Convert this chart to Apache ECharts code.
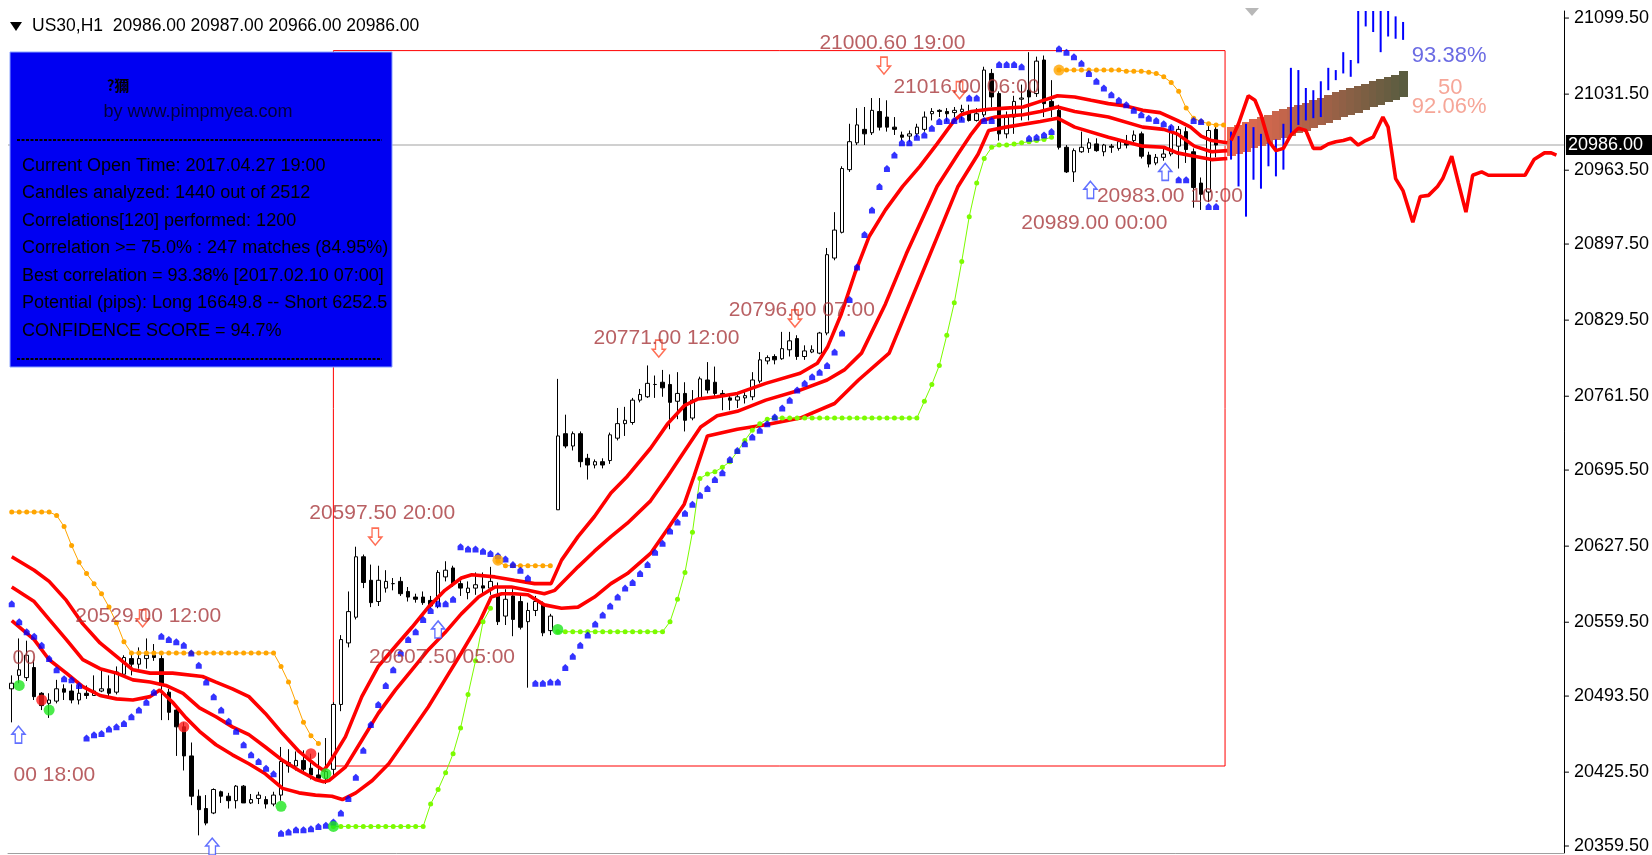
<!DOCTYPE html>
<html>
<head>
<meta charset="utf-8">
<title>US30,H1</title>
<script src="https://cdn.jsdelivr.net/npm/echarts@6.0.0/dist/echarts.min.js"></script>
<style>
  html, body { margin: 0; padding: 0; background: #fff; }
  #chart { width: 1652px; height: 855px; }
</style>
</head>
<body>
<div id="chart"></div>
<script>
// visible price window and slots (history + projection)
const priceMin = 20353.3;
const priceMax = 21105.8;
const barCount = 208;
const lastPrice = 20986.0;
const yTickLabels = [21099.5, 21031.5, 20963.5, 20897.5, 20829.5, 20761.5, 20695.5, 20627.5, 20559.5, 20493.5, 20425.5, 20359.5];

// H1 bars: [open, high, low, close]
const ohlc = [
  [20500,20512,20470,20505],[20512,20545,20505,20517],[20510,20543,20507,20530],[20519,20526,20490,20493],
  [20496,20497,20481,20485],[20487,20496,20474,20490],[20489,20508,20487,20500],[20500,20504,20490,20497],
  [20498,20504,20487,20490],[20490,20507,20486,20496],[20496,20503,20491,20494],[20494,20512,20494,20498],
  [20498,20518,20497,20500],[20500,20512,20493,20496],[20497,20520,20495,20515],[20513,20530,20511,20528],
  [20527,20531,20512,20522],[20522,20537,20518,20527],[20527,20545,20518,20530],[20530,20540,20525,20528],
  [20527,20530,20472,20503],[20497,20500,20472,20479],[20481,20483,20440,20466],[20466,20470,20427,20440],
  [20440,20452,20396,20404],[20404,20410,20369,20392],[20393,20405,20378,20380],[20389,20411,20388,20410],
  [20408,20409,20398,20404],[20404,20407,20393,20400],[20400,20414,20393,20413],[20413,20414,20398,20398],
  [20398,20406,20397,20401],[20402,20408,20397,20405],[20401,20404,20393,20397],[20397,20408,20395,20405],
  [20405,20448,20400,20435],[20434,20446,20425,20431],[20431,20444,20427,20436],[20436,20445,20424,20428],
  [20429,20442,20419,20423],[20423,20443,20418,20420],[20420,20456,20415,20426],[20428,20488,20420,20486],
  [20486,20548,20480,20544],[20541,20587,20537,20569],[20564,20627,20562,20618],[20618,20620,20590,20595],
  [20597,20611,20573,20577],[20578,20610,20574,20597],[20590,20606,20586,20596],[20594,20599,20588,20594],
  [20596,20600,20583,20585],[20587,20591,20578,20582],[20582,20585,20577,20580],[20582,20587,20575,20577],
  [20579,20583,20572,20574],[20574,20606,20572,20604],[20600,20614,20596,20606],[20608,20610,20591,20594],
  [20594,20597,20583,20590],[20586,20596,20580,20590],[20590,20604,20584,20593],[20592,20604,20584,20590],
  [20590,20609,20584,20596],[20584,20595,20557,20560],[20565,20589,20557,20580],[20583,20589,20547,20562],
  [20578,20583,20553,20555],[20560,20577,20501,20570],[20570,20583,20565,20578],[20575,20578,20547,20550],
  [20552,20567,20548,20565],[20660,20777,20660,20726],[20728,20745,20715,20717],[20717,20730,20713,20728],
  [20728,20730,20698,20703],[20706,20710,20687,20700],[20700,20705,20697,20703],[20703,20706,20697,20700],
  [20704,20729,20701,20727],[20724,20751,20722,20737],[20737,20752,20726,20740],[20738,20760,20736,20758],
  [20758,20768,20756,20763],[20761,20789,20760,20773],[20772,20780,20760,20772],[20774,20785,20761,20769],
  [20772,20781,20732,20756],[20757,20783,20741,20764],[20764,20774,20730,20740],[20742,20767,20740,20758],
  [20760,20779,20758,20777],[20776,20792,20764,20767],[20774,20788,20761,20764],[20764,20767,20749,20762],
  [20760,20763,20749,20758],[20758,20763,20751,20761],[20760,20767,20755,20762],[20761,20783,20758,20776],
  [20775,20801,20773,20794],[20793,20798,20790,20796],[20797,20799,20790,20794],[20795,20819,20794,20804],
  [20803,20819,20797,20811],[20813,20816,20794,20797],[20797,20807,20794,20802],[20801,20807,20800,20803],
  [20800,20819,20799,20818],[20818,20894,20816,20888],[20885,20926,20883,20910],[20908,20967,20907,20965],
  [20964,21005,20962,20989],[20988,21019,20986,21004],[21000,21020,20986,20996],[20997,21028,20995,21017],
  [21016,21028,20999,21002],[21011,21026,20998,21002],[21002,21011,20995,21000],[20995,20998,20990,20993],
  [20994,20999,20989,20996],[20996,21005,20993,21002],[21000,21016,20998,21011],[21014,21019,21008,21016],
  [21017,21018,21011,21016],[21016,21019,21007,21014],[21015,21020,21011,21017],[21016,21022,21008,21018],
  [21016,21022,21007,21008],[21008,21019,21007,21014],[21013,21056,21011,21053],[21050,21054,21020,21029],
  [21032,21034,20990,20996],[20996,21016,20992,21011],[21011,21030,20996,21025],[21027,21040,21008,21028],
  [21035,21069,21008,21029],[21032,21065,21029,21061],[21062,21066,21011,21023],[21025,21044,21011,21020],
  [21017,21022,20982,20984],[20984,20986,20961,20962],[20962,20983,20953,20981],[20980,20998,20979,20984],
  [20983,20992,20979,20988],[20987,20992,20980,20981],[20980,20987,20976,20986],[20985,20987,20979,20984],
  [20983,20990,20981,20989],[20988,20995,20983,20986],[20990,20999,20988,20995],[20996,20998,20974,20976],
  [20977,20980,20966,20969],[20970,20978,20968,20975],[20975,20984,20972,20978],[20978,21003,20976,20998],
  [20985,21003,20965,21000],[20998,21002,20970,20982],[20980,20983,20930,20948],[20952,20957,20928,20942],
  [20944,21003,20935,20999],[21000,21003,20975,20986]
];

// envelope lines [bar, price]
const upperBand = [[0,20618],[3,20606],[5,20596],[7.3,20579],[9.5,20558],[11.8,20541],[14,20529],[16.2,20517],[18.5,20514],[21.5,20514],[25.5,20511],[27.3,20506],[29.5,20500],[31.7,20493],[33.9,20478],[36.2,20460],[38.4,20444],[40.6,20432],[41.7,20427],[42.4,20433],[44.6,20457],[46.8,20493],[49,20520],[51.3,20538],[53.5,20555],[55.7,20573],[57.9,20588],[60.1,20599],[61.5,20602],[64.6,20600],[67.2,20597],[69.9,20594],[72.1,20594],[73.5,20615],[75.7,20636],[77.9,20654],[80.1,20675],[82.3,20690],[85.4,20715],[87.7,20737],[89.9,20753],[91.7,20759],[94.3,20761],[97,20764],[100.8,20773],[105.4,20782],[107.7,20791],[109.1,20806],[110.9,20835],[112.7,20871],[114.6,20904],[116.8,20928],[119.1,20949],[121.4,20967],[123.7,20987],[126,21008],[126.9,21013],[128.3,21016],[130.6,21018],[132.9,21019],[135.2,21020],[137.5,21025],[139.8,21030],[142.1,21029],[144.3,21026],[146.6,21023],[148.9,21021],[151.2,21017],[153.5,21015],[155.8,21008],[157.6,21002],[159,20994],[160.4,20990],[162.5,20988]];
const middleBand = [[0,20591],[3,20578],[5,20562],[7.3,20544],[9.5,20526],[11.8,20518],[14,20514],[16.2,20508],[18.5,20506],[20.6,20503],[22.9,20496],[25.1,20483],[27.3,20475],[29.5,20466],[31.7,20459],[33.9,20448],[36.2,20436],[38.4,20427],[40.6,20419],[41.7,20417],[42.4,20418],[44.6,20430],[46.8,20454],[49,20478],[51.3,20499],[53.5,20517],[55.7,20535],[57.9,20550],[60.1,20567],[62.4,20582],[64.6,20591],[66.8,20591],[69,20588],[71.2,20585],[72.6,20588],[75.7,20609],[77.9,20623],[80.1,20636],[82.3,20648],[85.4,20668],[87.7,20690],[89.9,20712],[92.1,20734],[94.3,20744],[97,20748],[100.8,20758],[105.4,20767],[109,20776],[111.3,20785],[113.6,20800],[116.8,20844],[119.6,20889],[123.7,20949],[126.5,20978],[128.3,20996],[129.7,21008],[131.5,21011],[135.2,21013],[137.5,21016],[139.8,21020],[142.1,21016],[146.6,21011],[151.2,21002],[154,21000],[155.8,20996],[158.1,20985],[160.4,20980],[162.5,20981]];
const lowerBand = [[0,20561],[3,20544],[5,20526],[7.3,20514],[9.5,20502],[11.8,20494],[14,20491],[16.2,20490],[18.5,20493],[19.8,20499],[21.5,20488],[23.3,20474],[25.1,20462],[27.3,20450],[29.5,20441],[31.7,20433],[33.9,20424],[36.2,20411],[38.4,20407],[40.6,20405],[42.8,20404],[44.2,20401],[46,20407],[48.2,20418],[50.4,20433],[52.6,20454],[55.7,20484],[57.9,20508],[60.1,20532],[62.4,20558],[64.1,20582],[65.5,20585],[67.2,20585],[69,20584],[71.2,20575],[73.5,20572],[75.7,20573],[77.9,20582],[80.1,20594],[82.3,20603],[85.4,20621],[87.7,20643],[89.9,20665],[91.2,20690],[93,20726],[97,20732],[100.8,20736],[105.4,20742],[110,20755],[113.2,20776],[117.3,20800],[122.8,20889],[126.5,20949],[129.2,20978],[130.6,20999],[132.9,21002],[137.5,21007],[139.8,21010],[142.1,21002],[146.6,20993],[151.2,20985],[154,20984],[155.8,20979],[158.1,20976],[160.4,20973],[162.5,20974]];

// stop-and-reverse dots [bar, price]
const sarDots = [[0,20576],[1,20560],[2,20551],[3,20547],[4,20539],[5,20527],[6,20517],[7,20509],[8,20508],[9,20503],
  [10,20456],[11,20459],[12,20460],[13,20464],[14,20466],[15,20469],[16,20475],[17,20481],[18,20488],[19,20497],
  [20,20547],[21,20544],[22,20542],[23,20539],[24,20532],[25,20521],[26,20506],[27,20493],[28,20481],[29,20471],[30,20462],[31,20450],[32,20441],[33,20435],[34,20429],[35,20424],
  [36,20371],[37,20372],[38,20374],[39,20374],[40,20375],[41,20377],[42,20378],[43,20381],[44,20389],[45,20402],[46,20421],[47,20445],[48,20468],[49,20486],[50,20503],[51,20517],[52,20532],[53,20544],[54,20551],[55,20562],[56,20570],[57,20576],[58,20576],[59,20580],
  [60,20627],[61,20625],[62,20625],[63,20623],[64,20621],[65,20619],[66,20616],[67,20611],[68,20606],[69,20599],
  [70,20505],[71,20505],[72,20506],[73,20506],[74,20519],[75,20529],[76,20539],[77,20548],[78,20558],[79,20566],[80,20574],[81,20582],[82,20590],[83,20595],[84,20603],[85,20611],[86,20622],[87,20630],[88,20641],[89,20649],[90,20657],[91,20665],[92,20673],[93,20679],[94,20687],[95,20693],
  [96,20705],[97,20713],[98,20719],[99,20725],[100,20731],[101,20737],[102,20743],[103,20751],[104,20758],[105,20767],[106,20773],[107,20779],[108,20783],[109,20789],[110,20801],[111,20818],[112,20848],[113,20877],[114,20906],[115,20928],[116,20949],[117,20965],[118,20977],[119,20988],[120,20988],[121,20993],[122,20995],[123,21001],[124,21007],[125,21008],[126,21008],[127,21009],
  [128,21028],[129,21028],[130,21008],[131,21008],[132,21058],[133,21058],[134,21058],[135,21056],[136,20992],[137,20993],[138,20995],[139,20998],
  [140,21072],[141,21069],[142,21065],[143,21059],[144,21050],[145,21043],[146,21037],[147,21031],[148,21026],[149,21022],[150,21017],[151,21013],[152,21010],[153,21008],[154,21005],[155,21002],
  [156,20955],[157,20955],[158,21008],[159,21007],[160,20931],[161,20931]];

// chained dot lines [bar, price]
const orangeSegments = [
  [[0,20658],[1,20658],[2,20658],[3,20658],[4,20658],[5,20658],[6,20655],[7,20645],[8,20628],[9,20613],[10,20603],[11,20594],[12,20585],[13,20573],[14,20559],[15,20542],[16,20532],[17,20532],[18,20532],[19,20532],[20,20532],[21,20532],[22,20532],[23,20532],[24,20532],[25,20532],[26,20532],[27,20532],[28,20532],[29,20532],[30,20532],[31,20532],[32,20532],[33,20532],[34,20532],[35,20532],[36,20520],[37,20506],[38,20488],[39,20470],[40,20458],[41,20451]],
  [[65,20614],[66,20610],[67,20610],[68,20610],[69,20610],[70,20610],[71,20610],[72,20610]],
  [[140,21053],[141,21053],[142,21053],[143,21053],[144,21053],[145,21053],[146,21053],[147,21053],[148,21053],[149,21052],[150,21052],[151,21052],[152,21051],[153,21050],[154,21047],[155,21042],[156,21034],[157,21019],[158,21010],[159,21007],[160,21005],[161,21004],[162,21004]]
];
const greenSegments = [
  [[43,20377],[44,20377],[45,20377],[46,20377],[47,20377],[48,20377],[49,20377],[50,20377],[51,20377],[52,20377],[53,20377],[54,20377],[55,20377],[56,20397],[57,20410],[58,20425],[59,20442],[60,20465],[61,20495],[62,20525],[63,20560],[64,20572]],
  [[73,20551],[74,20551],[75,20551],[76,20551],[77,20551],[78,20551],[79,20551],[80,20551],[81,20551],[82,20551],[83,20551],[84,20551],[85,20551],[86,20551],[87,20551],[88,20560],[89,20580],[90,20604],[91,20640],[92,20688],[93,20692],[94,20694],[95,20698],[96,20703],[97,20712],[98,20722],[99,20731],[100,20737],[101,20741],
   [102,20742],[103,20742],[104,20742],[105,20742],[106,20742],[107,20742],[108,20742],[109,20742],[110,20742],[111,20742],[112,20742],[113,20742],[114,20742],[115,20742],[116,20742],[117,20742],[118,20742],[119,20742],[120,20742],[121,20742],
   [122,20757],[123,20772],[124,20789],[125,20816],[126,20845],[127,20882],[128,20922],[129,20952],[130,20974],[131,20984],[132,20986],[133,20986],[134,20987],[135,20988],[136,20989],[137,20990],[138,20991],[139,20993]]
];

// signal circles [bar, price]
const redSignals = [[4,20490],[23,20466],[40,20442]];
const greenSignals = [[1,20503],[5,20481],[36,20395],[42,20424],[43,20377],[73,20553]];
const orangeSignals = [[65,20615],[140,21053]];

// arrows [bar, price]
const downArrows = [[17.5,20563],[48.6,20636],[86.5,20804],[104.7,20831],[116.6,21057],[126.7,21035]];
const upArrows = [[0.9,20459],[26.8,20359],[57.0,20553],[144.2,20946],[154.2,20962]];

// swing labels: text, bar, price
const swingLabels = [
  ['20529.00 12:00', 8.42, 20565], ['20597.50 20:00', 39.7, 20657], ['20607.50 05:00', 47.7, 20528],
  ['20771.00 12:00', 77.7, 20813], ['20796.00 07:00', 95.8, 20838], ['21000.60 19:00', 107.9, 21077],
  ['21016.00 06:00', 117.8, 21038], ['20989.00 00:00', 134.9, 20916], ['20983.00 10:00', 145.0, 20940],
  ['00 18:00', 0.17, 20423], ['00', 0.03, 20527]
];

// matched pattern window: left bar, right bar, low, high
const patternBox = [43, 162.2, 20431, 21070.4];

// projection
const projStart = 163;
const projLow  = [20973,20949,20922,20955,20947,20967,20958,20964,20994,21004,21008,21010,21011,21035,21044,21050,21047,21059,21092,21087,21069,21083,21081,21080];
const projHigh = [20998,20994,21005,21002,20996,20991,20991,21005,21055,21053,21037,21035,21043,21055,21053,21069,21062,21120,21120,21120,21120,21120,21101,21096];
const bandTop    = [21002,21004,21007,21009,21011,21013,21016,21018,21020,21022,21024,21026,21028,21031,21033,21035,21037,21039,21041,21043,21045,21047,21049,21052];
const bandBottom = [20976,20978,20980,20983,20985,20987,20990,20992,20994,20997,20999,21001,21004,21006,21008,21011,21013,21015,21018,21020,21022,21025,21027,21029];
const futureLine = [[163,20990],[164,21005],[165.3,21030],[166.2,21026],[167,21013],[168,20990],[169,20981],[170,20983],[171,20995],[172,21001],[173,20999],[174,20983],[175,20983],[176,20987],[177,20989],[178,20990],[179,20992],[180,20986],[181,20990],[182,20993],[183.3,21011],[184,21002],[185,20956],[186,20945],[187.3,20917],[188.3,20940],[189.4,20941],[190.6,20949],[191.3,20956],[192.5,20976],[193.4,20952],[194.4,20926],[195.3,20959],[196.5,20962],[197.4,20959],[202.3,20959],[203.5,20973],[204.9,20979],[205.8,20979],[206.5,20977]];
const forecastTexts = [['93.38%', 187.1, 21066, '#4646dc'], ['50', 190.6, 21037, '#f4907e'], ['92.06%', 187.1, 21020, '#f4907e']];

const infoLines = [
  'Current Open Time: 2017.04.27 19:00',
  'Candles analyzed: 1440 out of 2512',
  'Correlations[120] performed: 1200',
  'Correlation >= 75.0% : 247 matches (84.95%)',
  'Best correlation = 93.38% [2017.02.10 07:00]',
  'Potential (pips): Long 16649.8 -- Short 6252.5',
  'CONFIDENCE SCORE = 94.7%'
];

const categories = Array.from({ length: barCount }, (_, i) => String(i));
const FONT = '"Liberation Sans", Arial, sans-serif';
const sarSymbol = 'path://M5,0 L10,4 L10,10 L0,10 L0,4 Z';
const downSymbol = 'path://M3,0 L9,0 L9,8 L12,8 L6,15 L0,8 L3,8 Z';
const upSymbol = 'path://M6,0 L12,7 L9,7 L9,15 L3,15 L3,7 L0,7 Z';

function mixColor(t) {
  const stops = [[236, 106, 80], [168, 98, 72], [90, 92, 64]];
  const s = t < 0.5 ? 0 : 1;
  const k = t < 0.5 ? t / 0.5 : (t - 0.5) / 0.5;
  const a = stops[s], b = stops[s + 1];
  return 'rgb(' + a.map((c, j) => Math.round(c + (b[j] - c) * k)).join(',') + ')';
}

const chart = echarts.init(document.getElementById('chart'));

const series = [
  {
    type: 'candlestick',
    xAxisIndex: 0,
    data: ohlc.map(r => [r[0], r[3], r[2], r[1]]),
    barWidth: 4,
    z: 2,
    itemStyle: { color: '#ffffff', color0: '#000000', borderColor: '#000000', borderColor0: '#000000', borderColorDoji: '#000000', borderWidth: 1 },
    markLine: {
      silent: true, symbol: 'none', z: 1,
      lineStyle: { color: '#c0c0c0', width: 1.5, type: 'solid' },
      label: { position: 'end', distance: 2, formatter: lastPrice.toFixed(2), backgroundColor: '#000', color: '#fff', fontFamily: FONT, fontSize: 18, padding: [1, 12, 1, 2] },
      data: [{ yAxis: lastPrice }]
    }
  },
  {
    type: 'line', xAxisIndex: 1, data: upperBand, showSymbol: false, z: 3,
    lineStyle: { color: '#ff0000', width: 3.6 },
    markArea: {
      silent: true,
      itemStyle: { color: 'rgba(0,0,0,0)', borderColor: '#ff0000', borderWidth: 1 },
      data: [[{ coord: [patternBox[0], patternBox[3]] }, { coord: [patternBox[1], patternBox[2]] }]]
    }
  },
  { type: 'line', xAxisIndex: 1, data: middleBand, showSymbol: false, z: 3, lineStyle: { color: '#ff0000', width: 3.6 } },
  { type: 'line', xAxisIndex: 1, data: lowerBand, showSymbol: false, z: 3, lineStyle: { color: '#ff0000', width: 3.6 } },
  {
    // price-axis ticks, drawn on the outer side of the axis line
    type: 'custom', xAxisIndex: 1, z: 2, clip: false, silent: true,
    data: yTickLabels.map(v => [barCount - 0.5, v]),
    renderItem: function (params, api) {
      const p = api.coord([api.value(0), api.value(1)]);
      return { type: 'line', shape: { x1: p[0], y1: p[1], x2: p[0] + 5, y2: p[1] }, style: { stroke: '#000', lineWidth: 1 } };
    }
  }
];

orangeSegments.forEach(seg => series.push({
  type: 'line', xAxisIndex: 1, data: seg, z: 4, symbol: 'circle', symbolSize: 5, showAllSymbol: true,
  itemStyle: { color: '#ffa500' }, lineStyle: { color: '#ffa500', width: 1 }
}));
greenSegments.forEach(seg => series.push({
  type: 'line', xAxisIndex: 1, data: seg, z: 4, symbol: 'circle', symbolSize: 5, showAllSymbol: true,
  itemStyle: { color: '#7cfc00' }, lineStyle: { color: '#7cfc00', width: 1 }
}));

series.push(
  { type: 'scatter', xAxisIndex: 1, data: sarDots, symbol: sarSymbol, symbolSize: [6, 7], z: 5, itemStyle: { color: '#0000ff' } },
  { type: 'scatter', xAxisIndex: 1, data: redSignals, symbolSize: 11, z: 6, itemStyle: { color: '#ff1a1a' } },
  { type: 'scatter', xAxisIndex: 1, data: greenSignals, symbolSize: 11, z: 6, itemStyle: { color: '#1ee61e' } },
  { type: 'scatter', xAxisIndex: 1, data: orangeSignals, symbolSize: 11, z: 6, itemStyle: { color: '#ffa500' } },
  { type: 'scatter', xAxisIndex: 1, data: downArrows, symbol: downSymbol, symbolSize: [13, 17], z: 7, clip: false,
    itemStyle: { color: '#ffffff', borderColor: '#ff4a2a', borderWidth: 1.5 } },
  { type: 'scatter', xAxisIndex: 1, data: upArrows, symbol: upSymbol, symbolSize: [13, 17], z: 7, clip: false,
    itemStyle: { color: '#ffffff', borderColor: '#3a4cff', borderWidth: 1.5 } },
  {
    type: 'scatter', xAxisIndex: 1, z: 8, symbolSize: 1, itemStyle: { color: 'rgba(0,0,0,0)' },
    data: swingLabels.map(l => ({ name: l[0], value: [l[1], l[2]] })),
    label: { show: true, position: 'right', distance: 0, formatter: '{b}', color: '#a8383c', fontFamily: FONT, fontSize: 21 }
  },
  {
    type: 'custom', xAxisIndex: 1, z: 3, clip: true,
    data: bandTop.map((t, k) => [projStart + k, bandBottom[k], t]),
    renderItem: function (params, api) {
      const x = api.value(0);
      const p1 = api.coord([x - 0.5, api.value(2)]);
      const p2 = api.coord([x + 0.5, api.value(1)]);
      return { type: 'rect', shape: { x: Math.floor(p1[0]), y: Math.round(p1[1]), width: Math.ceil(p2[0] - p1[0]) + 1, height: Math.round(p2[1] - p1[1]) },
        style: { fill: mixColor(params.dataIndex / (bandTop.length - 1)) } };
    }
  },
  {
    type: 'custom', xAxisIndex: 1, z: 4, clip: true,
    data: projLow.map((l, k) => [projStart + k, l, projHigh[k]]),
    renderItem: function (params, api) {
      const a = api.coord([api.value(0), api.value(1)]);
      const b = api.coord([api.value(0), api.value(2)]);
      return { type: 'line', shape: { x1: a[0], y1: a[1], x2: b[0], y2: b[1] }, style: { stroke: '#0000ff', lineWidth: 2 } };
    }
  },
  { type: 'line', xAxisIndex: 1, data: futureLine, showSymbol: false, z: 5, lineStyle: { color: '#ff0000', width: 3.6 } },
  {
    type: 'scatter', xAxisIndex: 1, z: 8, symbolSize: 1, itemStyle: { color: 'rgba(0,0,0,0)' },
    data: forecastTexts.map(f => ({ name: f[0], value: [f[1], f[2]], label: { color: f[3] } })),
    label: { show: true, position: 'right', distance: 0, formatter: '{b}', fontFamily: FONT, fontSize: 22 }
  }
);

const graphic = [
  { type: 'polygon', z: 100, shape: { points: [[10, 22], [22, 22], [16, 31]] }, style: { fill: '#000' } },
  { type: 'text', z: 100, x: 32, y: 26, style: { text: 'US30,H1  20986.00 20987.00 20966.00 20986.00', font: '17.5px ' + FONT, fill: '#000', verticalAlign: 'middle' } },
  { type: 'polygon', z: 100, shape: { points: [[1245, 8], [1259, 8], [1252, 16]] }, style: { fill: '#b8b8b8' } },
  { type: 'rect', z: 100, shape: { x: 10, y: 52, width: 382, height: 315 }, style: { fill: '#0000f2', stroke: '#8aa2ff', lineWidth: 1 } },
  { type: 'text', z: 101, x: 118, y: 85, style: { text: '?獮', font: 'bold 15px "Noto Sans CJK SC"', fill: '#000', align: 'center', verticalAlign: 'middle' } },
  { type: 'text', z: 101, x: 198, y: 112, style: { text: 'by www.pimpmyea.com', font: '18px ' + FONT, fill: '#00003a', align: 'center', verticalAlign: 'middle' } },
  { type: 'line', z: 101, shape: { x1: 17, y1: 140, x2: 382, y2: 140 }, style: { stroke: '#000', lineWidth: 2, lineDash: [3, 1.5] } },
  { type: 'line', z: 101, shape: { x1: 17, y1: 359, x2: 382, y2: 359 }, style: { stroke: '#000', lineWidth: 2, lineDash: [3, 1.5] } }
];
infoLines.forEach((t, k) => graphic.push({
  type: 'text', z: 101, x: 22, y: 166 + k * 27.5,
  style: { text: t, font: '18px ' + FONT, fill: '#000', verticalAlign: 'middle' }
}));

chart.setOption({
  animation: false,
  backgroundColor: '#ffffff',
  grid: { left: 8, right: 82, top: 11, bottom: 2 },
  xAxis: [
    { type: 'category', data: categories, boundaryGap: true,
      axisLine: { show: true, onZero: false, lineStyle: { color: '#a0a0a0' } }, axisTick: { show: false }, axisLabel: { show: false }, splitLine: { show: false } },
    { type: 'value', min: -0.5, max: barCount - 0.5, show: false, axisLine: { onZero: false }, splitLine: { show: false } }
  ],
  yAxis: {
    type: 'value', position: 'right', min: priceMin, max: priceMax,
    axisLine: { show: true, onZero: false, lineStyle: { color: '#000' } },
    axisTick: { show: false },
    axisLabel: { customValues: yTickLabels, formatter: v => v.toFixed(2), color: '#000', fontFamily: FONT, fontSize: 18, margin: 10 },
    splitLine: { show: false }
  },
  graphic: graphic,
  series: series
});
</script>
</body>
</html>
